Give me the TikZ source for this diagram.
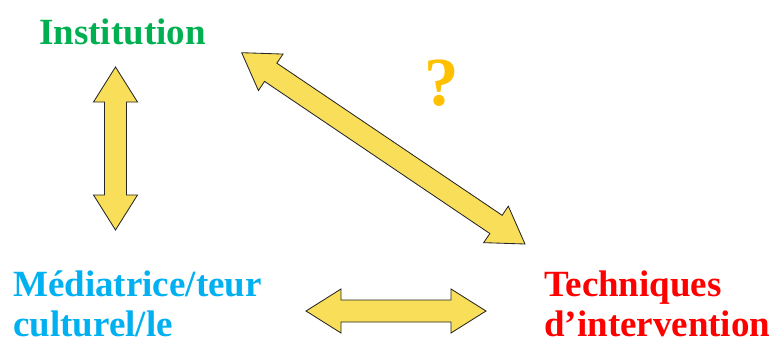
\documentclass[tikz,border=0pt]{standalone}
\usepackage{fontspec}
\setmainfont{Liberation Serif}
\usetikzlibrary{calc, positioning}
\definecolor{instGreen}{HTML}{00B050}
\definecolor{mediaBlue}{HTML}{00B0F0}
\definecolor{techRed}{HTML}{FF0000}
\definecolor{askGold}{HTML}{FFC000}
\definecolor{arrowYellow}{HTML}{F9DE59}
\tikzset{
    actor/.style={inner sep=0pt, align=left, font=\bfseries\fontsize{26.3}{28.1}\selectfont},
    fatArrow/.style={draw=black!85, fill=arrowYellow, line width=0.6pt, line join=miter},
}
\newcommand{\headLen}{0.875cm}
\newcommand{\headHalf}{0.55cm}
\newcommand{\shaftHalf}{0.275cm}
\newcommand{\drawFatArrow}[2]{
    \draw[fatArrow] (#1)
        -- ($(#1)!\headLen!(#2)!\headHalf!90:(#2)$)
        -- ($(#1)!\headLen!(#2)!\shaftHalf!90:(#2)$)
        -- ($(#2)!\headLen!(#1)!\shaftHalf!-90:(#1)$)
        -- ($(#2)!\headLen!(#1)!\headHalf!-90:(#1)$)
        -- (#2)
        -- ($(#2)!\headLen!(#1)!\headHalf!90:(#1)$)
        -- ($(#2)!\headLen!(#1)!\shaftHalf!90:(#1)$)
        -- ($(#1)!\headLen!(#2)!\shaftHalf!-90:(#2)$)
        -- ($(#1)!\headLen!(#2)!\headHalf!-90:(#2)$)
        -- cycle;
}
\begin{document}
\begin{tikzpicture}[x=0.025cm, y=-0.025cm]
    \useasboundingbox (0,0) rectangle (774,342);

    \node[actor, text=instGreen, anchor=base west] (inst) at (39,44) {Institution};
    \node[actor, text=mediaBlue, anchor=base west] (media) at (13,336.5) {Médiatrice/teur\\culturel/le};
    \node[actor, text=techRed, anchor=base west] (tech) at (544,336.5) {Techniques\\d’intervention};
    \node[inner sep=0pt, anchor=base, text=askGold, font=\bfseries\fontsize{49}{49}\selectfont] (ask) at (442,105) {?};

    \coordinate (instS) at (115.5,67);
    \coordinate (mediaN) at (115.5,230);
    \coordinate (mediaE) at (306,311);
    \coordinate (techW) at (486,311);
    \coordinate (instE) at (241.7,52.7);
    \coordinate (techN) at (525,244);

    \drawFatArrow{instS}{mediaN}
    \drawFatArrow{mediaE}{techW}
    \drawFatArrow{instE}{techN}

\end{tikzpicture}
\end{document}
